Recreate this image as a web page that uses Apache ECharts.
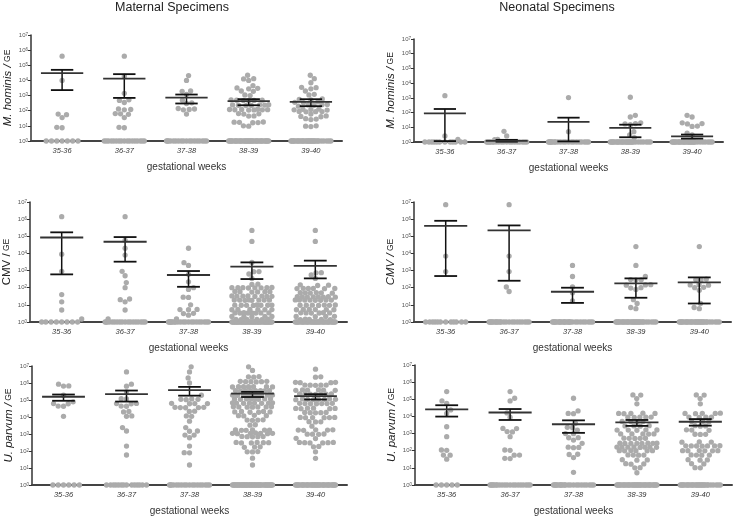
<!DOCTYPE html>
<html><head><meta charset="utf-8">
<script src="https://cdn.jsdelivr.net/npm/echarts@6/dist/echarts.min.js"></script>
<style>html,body{margin:0;padding:0;background:#fff}#c{width:733px;height:517px}</style>
</head><body><div id="c"></div><script>
const categories = ['35-36','36-37','37-38','38-39','39-40'];

// Maternal M. hominis
const matHomValues = [
  [4e5, 1e4, 60, 55, 35, 8, 7.5],
  [4e5, 1.9e4, 1.4e3, 520, 480, 350, 130, 120, 115, 65, 62, 58, 35, 8, 7.5],
  [2.1e4, 1e4, 2e3, 1.9e3, 1.2e3, 500, 330, 300, 140, 130, 120, 115, 60],
  [2.2e4, 1.3e4, 1.25e4, 1e4, 4.5e3, 3.2e3, 3e3, 2.8e3, 2e3, 1.9e3, 1.1e3, 1e3, 520, 500, 490, 480, 470, 460, 250, 245, 240, 235, 230, 225, 220, 125, 122, 120, 118, 116, 114, 112, 110, 65, 62, 60, 45, 44, 18, 17.5, 17, 16.5, 16, 10, 9.5],
  [2.2e4, 1.3e4, 7e3, 3.5e3, 3.3e3, 2.8e3, 2e3, 1.2e3, 1.1e3, 600, 560, 520, 380, 360, 340, 260, 250, 240, 230, 200, 130, 125, 120, 115, 110, 90, 88, 86, 84, 60, 45, 42, 40, 30, 28, 26, 10, 9.5, 9]
];
const matHomZeros = [7, 17, 18, 35, 30];
const matHomMean = [3e4, 1.3e4, 740, 425, 380];
const matHomLow = [2.3e3, 700, 300, 230, 200];
const matHomHigh = [5e4, 2.6e4, 1170, 580, 575];

// Neonatal M. hominis
const neoHomValues = [
  [1.4e3, 2.6, 1.5],
  [5.3, 2.6, 1.5, 1.45],
  [1.05e3, 5],
  [1.1e3, 65, 50, 20, 18, 17, 15, 5, 3, 2],
  [65, 50, 20, 18, 17, 12, 11.5, 4, 3]
];
const neoHomZeros = [12, 20, 20, 28, 28];
const neoHomMean = [88, 1.2, 23, 9, 2.4];
const neoHomLow = [1.15, 1.05, 1.1, 2.1, 1.7];
const neoHomHigh = [175, 1.4, 45, 15, 3.2];

// Maternal CMV
const matCmvValues = [
  [1.4e6, 9e3, 900, 40, 15, 5, 1.5],
  [1.4e6, 6e4, 2e4, 8e3, 900, 500, 200, 100, 22, 20, 15, 5, 1.5],
  [2e4, 2.9e3, 2e3, 600, 220, 100, 80, 28, 27, 10, 5.3, 5.2, 5.4, 3.2, 3.1, 2.5, 1.5],
  [2.2e5, 5e4, 3e3, 870, 860, 630, 350, 160, 155, 104, 102, 100, 98, 96, 101, 99, 100, 60, 59, 58, 57, 56, 58, 33, 32.5, 32, 31.5, 31, 32, 33, 31, 19.5, 19, 18.5, 19, 19.5, 18.5, 19, 19, 9.8, 9.6, 9.4, 9.5, 9.7, 9.3, 9.5, 9.5, 5.4, 5.3, 5.2, 5.3, 5.4, 5.2, 3.5, 3.45, 3.4, 3.35, 3.3, 3.4, 3.45, 3.35, 2.15, 2.1, 2.05, 2.1, 2.12, 1.45, 1.42, 1.4, 1.38, 1.35, 1.4],
  [2.2e5, 5e4, 750, 740, 550, 350, 145, 140, 135, 92, 91, 90, 89, 88, 90, 51, 50, 49, 50, 52, 48, 30, 29.5, 29, 28.5, 28, 29, 30, 28, 19.5, 19, 18.5, 19, 19.5, 18.5, 19, 19, 9.8, 9.6, 9.4, 9.5, 9.7, 9.3, 9.5, 5.4, 5.3, 5.2, 5.3, 5.4, 5.2, 3.5, 3.4, 3.3, 3.4, 3.45, 3.35, 2.15, 2.1, 2.05, 2.1, 1.45, 1.42, 1.4, 1.38, 1.35]
];
const matCmvZeros = [8, 18, 20, 40, 35];
const matCmvMean = [8.5e4, 4.8e4, 550, 1.7e3, 1.9e3];
const matCmvLow = [600, 3.3e3, 113, 320, 350];
const matCmvHigh = [1.7e5, 9e4, 940, 3e3, 3.8e3];

// Neonatal CMV
const neoCmvValues = [
  [7e6, 7e3, 870],
  [7e6, 7e3, 870, 110, 60],
  [2e3, 450, 110, 50, 17],
  [2.5e4, 2e3, 450, 300, 290, 280, 150, 145, 140, 100, 95, 80, 20, 12, 7, 6],
  [2.5e4, 320, 300, 290, 150, 145, 140, 105, 100, 70, 12, 7, 6]
];
const neoCmvZeros = [12, 22, 25, 30, 30];
const neoCmvMean = [4.1e5, 2.2e5, 58, 180, 205];
const neoCmvLow = [480, 255, 13, 26, 12];
const neoCmvHigh = [8e5, 4.3e5, 100, 350, 400];

// Maternal U. parvum
const matUpValues = [
  [8.5e5, 6.7e5, 6.6e5, 1.9e5, 7.8e4, 6.2e4, 6e4, 4.4e4, 4.3e4, 1.1e4],
  [4.5e6, 8.5e5, 6.5e5, 3e5, 1.2e5, 1.15e5, 6.2e4, 6e4, 6.3e4, 4.4e4, 4.3e4, 2e4, 2.1e4, 1.1e4, 1.15e4, 2.4e3, 1.5e3, 195, 58],
  [8.9e6, 4.5e6, 2e6, 1e6, 1.9e5, 1.15e5, 1.1e5, 1.05e5, 1.1e5, 6.4e4, 6.2e4, 6e4, 6.2e4, 3.7e4, 3.6e4, 3.5e4, 3.6e4, 3.7e4, 2.2e4, 2.1e4, 1.1e4, 1.15e4, 5.7e3, 2.4e3, 1.5e3, 1.45e3, 870, 860, 600, 195, 80, 78, 15],
  [8.9e6, 5.5e6, 2.4e6, 2.3e6, 2.2e6, 1.25e6, 1.2e6, 1.2e6, 1.15e6, 1.2e6, 1.25e6, 6.2e5, 6e5, 6e5, 5.8e5, 6.1e5, 5.9e5, 6e5, 3.6e5, 3.5e5, 3.5e5, 3.4e5, 3.5e5, 3.6e5, 3.4e5, 3.5e5, 2e5, 1.95e5, 1.9e5, 2e5, 1.95e5, 1.9e5, 2e5, 1.95e5, 1.9e5, 1.2e5, 1.15e5, 1.1e5, 1.15e5, 1.2e5, 1.1e5, 1.15e5, 1.15e5, 6.8e4, 6.6e4, 6.4e4, 6.6e4, 6.8e4, 6.4e4, 6.6e4, 6.5e4, 4e4, 3.9e4, 3.8e4, 3.9e4, 4e4, 3.8e4, 3.9e4, 2.1e4, 2e4, 1.9e4, 2e4, 2.1e4, 1.9e4, 1.25e4, 1.2e4, 1.15e4, 1.2e4, 6.8e3, 6.6e3, 6.4e3, 6.6e3, 3.5e3, 3.3e3, 1.75e3, 1.7e3, 1.65e3, 1.7e3, 1.75e3, 1.65e3, 1.1e3, 1.05e3, 1.1e3, 1.15e3, 1.1e3, 1.05e3, 1.1e3, 720, 700, 680, 700, 710, 320, 310, 300, 310, 320, 300, 175, 170, 165, 92, 90, 88, 38, 15],
  [6.5e6, 2.3e6, 2.2e6, 1.1e6, 1.05e6, 1.1e6, 1.05e6, 7.5e5, 7.4e5, 7.3e5, 7.5e5, 7.4e5, 3.9e5, 3.8e5, 3.7e5, 3.8e5, 3.9e5, 3.7e5, 2.25e5, 2.2e5, 2.15e5, 2.2e5, 2.25e5, 2.15e5, 2.2e5, 1.15e5, 1.1e5, 1.05e5, 1.1e5, 1.15e5, 1.05e5, 1.1e5, 1.1e5, 6.4e4, 6.2e4, 6e4, 6.2e4, 6.4e4, 6e4, 6.2e4, 3.3e4, 3.2e4, 3.1e4, 3.2e4, 3.3e4, 3.1e4, 1.85e4, 1.8e4, 1.75e4, 1.8e4, 1.85e4, 9.5e3, 9.3e3, 9.1e3, 9.3e3, 9.5e3, 9.1e3, 5.3e3, 5.2e3, 5.1e3, 2.9e3, 1.75e3, 1.7e3, 1.65e3, 1.7e3, 1.75e3, 1e3, 980, 960, 980, 560, 540, 320, 310, 300, 310, 320, 300, 185, 175, 90, 37]
];
const matUpZeros = [6, 14, 18, 40, 35];
const matUpMean = [1.55e5, 2.2e5, 3.8e5, 2.4e5, 1.7e5];
const matUpLow = [9e4, 8.1e4, 1.8e5, 1.5e5, 1.07e5];
const matUpHigh = [2.1e5, 3.6e5, 5.9e5, 3e5, 2.2e5];

// Neonatal U. parvum
const neoUpValues = [
  [2.8e5, 8e4, 5.8e4, 2.4e4, 1.5e4, 2.5e3, 660, 110, 105, 56, 55, 32],
  [2.8e5, 1.15e5, 8e4, 1.6e4, 9e3, 2e3, 1.95e3, 1.3e3, 1.25e3, 660, 110, 105, 56, 55, 36, 35],
  [1.15e5, 2.1e4, 1.5e4, 1.45e4, 4e3, 2.3e3, 2.2e3, 1.6e3, 1e3, 980, 580, 570, 420, 270, 160, 155, 150, 62, 60, 40, 5.5],
  [1.8e5, 1.75e5, 1.1e5, 5.4e4, 1.5e4, 1.55e4, 1.45e4, 1.5e4, 1.5e4, 9e3, 9.2e3, 8.8e3, 9e3, 9.1e3, 5e3, 5.1e3, 4.9e3, 5e3, 2.8e3, 2.9e3, 2.7e3, 2.8e3, 1.6e3, 1.65e3, 1.55e3, 1.6e3, 1.62e3, 950, 960, 940, 950, 955, 530, 540, 520, 530, 535, 270, 275, 265, 270, 272, 268, 270, 275, 160, 162, 158, 160, 165, 155, 160, 161, 100, 102, 98, 100, 101, 99, 56, 57, 55, 56, 29, 30, 28, 17, 17.5, 16.5, 10, 10.2, 5.2],
  [1.8e5, 1.75e5, 1.1e5, 5.4e4, 1.5e4, 1.55e4, 1.45e4, 1.5e4, 1.52e4, 9e3, 9.2e3, 8.8e3, 9.1e3, 5e3, 5.1e3, 4.9e3, 2.8e3, 2.9e3, 2.7e3, 1.6e3, 1.65e3, 1.55e3, 900, 910, 890, 320, 325, 315, 190, 192, 188, 190, 195, 185, 191, 100, 102, 98, 100, 101, 99, 56, 57, 55, 56, 29, 30, 28, 17, 17.5, 10, 10.2]
];
const neoUpZeros = [5, 20, 22, 35, 30];
const neoUpMean = [2.6e4, 1.7e4, 3.5e3, 4.5e3, 4.9e3];
const neoUpLow = [9.8e3, 6.2e3, 1.1e3, 2.8e3, 2.9e3];
const neoUpHigh = [4.5e4, 2.7e4, 5.9e3, 6.2e3, 7e3];

const FONT = 'Arial, "Liberation Sans", sans-serif';

const panels = [
  { values: matHomValues, zeros: matHomZeros, mean: matHomMean, lo: matHomLow, hi: matHomHigh,
    yName: '{i|M. hominis /}{g| GE}', box: { left: 31, top: 35, width: 311, height: 106 } },
  { values: neoHomValues, zeros: neoHomZeros, mean: neoHomMean, lo: neoHomLow, hi: neoHomHigh,
    yName: '{i|M. hominis /}{g| GE}', box: { left: 414, top: 39, width: 309, height: 103 } },
  { values: matCmvValues, zeros: matCmvZeros, mean: matCmvMean, lo: matCmvLow, hi: matCmvHigh,
    yName: '{n|CMV /}{g| GE}', box: { left: 30, top: 202, width: 317, height: 120 } },
  { values: neoCmvValues, zeros: neoCmvZeros, mean: neoCmvMean, lo: neoCmvLow, hi: neoCmvHigh,
    yName: '{i|CMV /}{g| GE}', box: { left: 414, top: 202, width: 317, height: 120 } },
  { values: matUpValues, zeros: matUpZeros, mean: matUpMean, lo: matUpLow, hi: matUpHigh,
    yName: '{i|U. parvum /}{g| GE}', box: { left: 32, top: 366, width: 315, height: 119 } },
  { values: neoUpValues, zeros: neoUpZeros, mean: neoUpMean, lo: neoUpLow, hi: neoUpHigh,
    yName: '{i|U. parvum /}{g| GE}', box: { left: 415, top: 365, width: 317, height: 120 } }
];

// beeswarm layout in pixel space; returns offsets in px
function swarm(vals, d, decadePx, maxHalf) {
  const pts = vals.map(v => ({ v: v, y: Math.log10(v) * decadePx, x: 0 }));
  pts.sort((a, b) => a.y - b.y);
  const placed = [];
  let flip = 1;
  for (const p of pts) {
    const near = placed.filter(q => Math.abs(q.y - p.y) < d);
    const blocks = near.map(q => { const w = Math.sqrt(d * d - (q.y - p.y) * (q.y - p.y)); return [q.x - w, q.x + w]; });
    const cands = [0];
    blocks.forEach(b => cands.push(b[0], b[1]));
    const ok = cands.filter(c => Math.abs(c) <= maxHalf + 1e-6 && blocks.every(b => c <= b[0] + 1e-6 || c >= b[1] - 1e-6));
    let x;
    if (ok.length) {
      ok.sort((a, b) => Math.abs(a) - Math.abs(b));
      const best = Math.abs(ok[0]);
      const ties = ok.filter(c => Math.abs(Math.abs(c) - best) < 1e-6);
      if (ties.some(c => c > 1e-6) && ties.some(c => c < -1e-6)) {
        x = flip > 0 ? Math.max.apply(null, ties) : Math.min.apply(null, ties);
        flip = -flip;
      } else x = ties[0];
    } else {
      let bestX = 0, bestD = -1;
      for (let c = -maxHalf; c <= maxHalf + 1e-6; c += 1) {
        let m = Infinity;
        near.forEach(q => { const dd = Math.hypot(q.x - c, q.y - p.y); if (dd < m) m = dd; });
        if (m > bestD + 1e-6) { bestD = m; bestX = c; }
      }
      x = bestX;
    }
    p.x = x;
    placed.push(p);
  }
  return pts;
}

const option = { animation: false, grid: [], xAxis: [], yAxis: [], series: [], graphic: [] };
const DOT = 5.3;

panels.forEach((p, k) => {
  const b = p.box;
  option.grid.push({ left: b.left, top: b.top, width: b.width, height: b.height });
  option.xAxis.push({
    type: 'category', gridIndex: k, data: categories,
    axisLine: { show: true, lineStyle: { color: '#444', width: 2 } },
    axisTick: { show: false },
    axisLabel: { fontStyle: 'italic', fontSize: 7.5, color: '#333', margin: 6, fontFamily: FONT },
    name: 'gestational weeks', nameLocation: 'middle', nameGap: 21,
    nameTextStyle: { fontSize: 10, color: '#333', fontFamily: FONT }
  });
  option.xAxis.push({ type: 'value', gridIndex: k, min: 0, max: 5, show: false });
  option.yAxis.push({
    type: 'log', gridIndex: k, logBase: 10, min: 1, max: 1e7, splitNumber: 7,
    axisLine: { show: true, lineStyle: { color: '#333', width: 1.5 } },
    axisTick: { show: true, length: 3, lineStyle: { color: '#333' } },
    splitLine: { show: false },
    axisLabel: {
      margin: 3,
      formatter: v => '{b|10}{s|' + Math.round(Math.log10(v)) + '}',
      rich: {
        b: { fontSize: 6, color: '#555', fontFamily: FONT },
        s: { fontSize: 4.5, color: '#555', fontFamily: FONT, verticalAlign: 'top' }
      }
    },
    name: p.yName, nameLocation: 'middle', nameGap: 17,
    nameTextStyle: {
      rich: {
        i: { fontStyle: 'italic', fontSize: 11.5, color: '#222', fontFamily: FONT },
        n: { fontSize: 11.5, color: '#222', fontFamily: FONT },
        g: { fontSize: 8.5, color: '#222', fontFamily: FONT }
      }
    }
  });
  const catPx = b.width / categories.length;
  const decadePx = b.height / 7;
  const data = [];
  categories.forEach((c, i) => {
    const all = p.values[i].concat(new Array(p.zeros[i]).fill(1));
    swarm(all, DOT, decadePx, 20).forEach(pt => data.push([i + 0.5 + pt.x / catPx, pt.v]));
  });
  option.series.push({
    type: 'scatter', xAxisIndex: 2 * k + 1, yAxisIndex: k, data: data,
    symbolSize: DOT, itemStyle: { color: '#ababab', opacity: 1 }, silent: true, z: 2
  });
  option.series.push({
    type: 'custom', xAxisIndex: 2 * k + 1, yAxisIndex: k, z: 5, silent: true,
    data: categories.map((c, i) => [i, p.mean[i], p.lo[i], p.hi[i]]),
    renderItem: (params, api) => {
      const i = api.value(0);
      const cx = i + 0.5;
      const m = api.coord([cx, api.value(1)]);
      const l = api.coord([cx, api.value(2)]);
      const h = api.coord([cx, api.value(3)]);
      const unit = api.coord([1, 1])[0] - api.coord([0, 1])[0];
      const mw = 0.34 * unit, cw = 0.18 * unit;
      return { type: 'group', children: [
        { type: 'line', shape: { x1: l[0], y1: l[1], x2: h[0], y2: h[1] }, style: { stroke: '#111', lineWidth: 1.5 } },
        { type: 'line', shape: { x1: h[0] - cw, y1: h[1], x2: h[0] + cw, y2: h[1] }, style: { stroke: '#111', lineWidth: 1.8 } },
        { type: 'line', shape: { x1: l[0] - cw, y1: l[1], x2: l[0] + cw, y2: l[1] }, style: { stroke: '#111', lineWidth: 1.8 } },
        { type: 'line', shape: { x1: m[0] - mw, y1: m[1], x2: m[0] + mw, y2: m[1] }, style: { stroke: '#333', lineWidth: 1.8 } }
      ] };
    }
  });
});

option.graphic = [
  { type: 'text', x: 172, y: 8, style: { text: 'Maternal Specimens', fontSize: 12.5, fontFamily: FONT, fill: '#222', align: 'center', verticalAlign: 'middle', textAlign: 'center', textVerticalAlign: 'middle' } },
  { type: 'text', x: 557, y: 8, style: { text: 'Neonatal Specimens', fontSize: 12.5, fontFamily: FONT, fill: '#222', align: 'center', verticalAlign: 'middle', textAlign: 'center', textVerticalAlign: 'middle' } }
];

const chart = echarts.init(document.getElementById('c'), null, { renderer: 'canvas' });
chart.setOption(option);
</script></body></html>
